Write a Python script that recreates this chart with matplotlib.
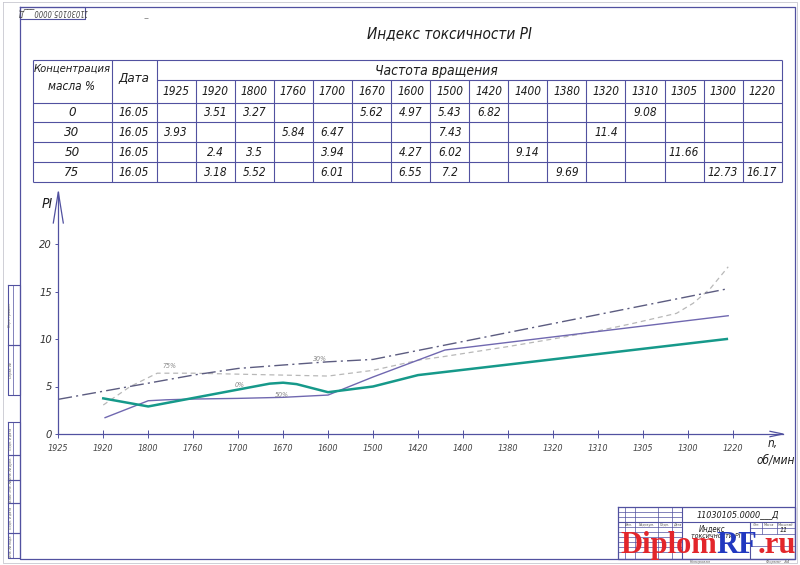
import matplotlib
matplotlib.use("Agg")
import matplotlib.pyplot as plt
from matplotlib import font_manager
from matplotlib.offsetbox import TextArea, HPacker, AnnotationBbox

# ---- data --------------------------------------------------------------
speeds = ["1925", "1920", "1800", "1760", "1700", "1670", "1600", "1500",
          "1420", "1400", "1380", "1320", "1310", "1305", "1300", "1220"]
concentrations = ["0", "30", "50", "75"]
test_date = "16.05"

pi_0 = [None, 3.51, 3.27, None, None, 5.62, 4.97, 5.43, 6.82, None, None, None, 9.08, None, None, None]
pi_30 = [3.93, None, None, 5.84, 6.47, None, None, 7.43, None, None, None, 11.4, None, None, None, None]
pi_50 = [None, 2.4, 3.5, None, 3.94, None, 4.27, 6.02, None, 9.14, None, None, None, 11.66, None, None]
pi_75 = [None, 3.18, 5.52, None, 6.01, None, 6.55, 7.2, None, None, 9.69, None, None, None, 12.73, 16.17]
table_rows = [pi_0, pi_30, pi_50, pi_75]

# curves as drawn on the sheet (x = position of the speed on the axis)
curve_0_x = [1, 2, 4.7, 5, 5.3, 6, 7, 8, 14.87]
curve_0_y = [3.75, 2.9, 5.3, 5.4, 5.25, 4.4, 5.0, 6.2, 10.0]
curve_30_x = [0, 3, 4, 5, 6, 7, 14.9]
curve_30_y = [3.65, 6.2, 6.9, 7.26, 7.6, 7.85, 15.3]
curve_50_x = [1.04, 2, 2.4, 3, 4, 5, 6, 7, 8.6, 14.9]
curve_50_y = [1.72, 3.5, 3.6, 3.68, 3.75, 3.86, 4.1, 6.0, 8.84, 12.45]
curve_75_x = [1, 1.6, 2.2, 3, 4, 5, 6, 7, 8.04, 8.56, 10, 11, 12, 12.79, 13.75, 14.12, 14.5, 14.9]
curve_75_y = [3.05, 5.0, 6.4, 6.4, 6.3, 6.2, 6.1, 6.7, 7.8, 8.14, 9.2, 10.0, 10.85, 11.65, 12.7, 13.76, 15.3, 17.6]

y_ticks = [0, 5, 10, 15, 20]

# ---- style -------------------------------------------------------------
names = {f.name for f in font_manager.fontManager.ttflist}
if "Liberation Sans Narrow" in names:
    FONT = dict(family="Liberation Sans Narrow", style="italic")
else:
    FONT = dict(family="DejaVu Sans", style="italic", stretch="condensed")

LINE = "#5151a0"
INK = "#1c1c1c"
W, H = 800, 565

fig = plt.figure(figsize=(W / 100, H / 100), dpi=100)
bg = fig.add_axes([0, 0, 1, 1])
bg.set_xlim(0, W)
bg.set_ylim(H, 0)
bg.axis("off")


def seg(x0, y0, x1, y1, color=LINE, lw=0.8):
    bg.plot([x0, x1], [y0, y1], color=color, lw=lw, solid_capstyle="butt")


def rect(x0, y0, x1, y1, color=LINE, lw=0.8):
    bg.plot([x0, x1, x1, x0, x0], [y0, y0, y1, y1, y0], color=color, lw=lw)


def txt(x, y, s, size, **kw):
    kw.setdefault("color", INK)
    bg.text(x, y, s, fontsize=size, ha=kw.pop("ha", "center"), va=kw.pop("va", "center"), **FONT, **kw)


# ---- sheet frame -------------------------------------------------------
rect(3, 1.5, 797, 563, color="#c8c8d0", lw=0.6)
rect(20, 6.5, 795, 559, lw=0.9)
rect(20, 6.5, 85, 18.5)
txt(52.5, 12.5, "11030105.0000___Д", 5.5, rotation=180, color="#444")
seg(144, 18, 148, 18, color="#888", lw=0.6)

# left strip
side_cells = [(285, 345, "Перв. примен."), (345, 395, "Справ. №"),
              (422, 455, "Подп. и дата"), (455, 480, "Инв. № дубл."),
              (480, 503, "Взам. инв. №"), (503, 533, "Подп. и дата"),
              (533, 558, "Инв. № подл.")]
for top, bottom, label in side_cells:
    rect(8, top, 20, bottom)
    seg(13, top, 13, bottom, lw=0.5)
    txt(10.5, (top + bottom) / 2, label, 2.6, rotation=90, color="#666")

# title block
rect(618, 507, 795, 559, lw=0.9)
seg(618, 522, 795, 522)
seg(682, 507, 682, 559)
for x in [625, 635, 658, 672]:
    seg(x, 507, x, 559, lw=0.5)
for y in [512, 517, 527, 532, 537, 542, 547, 552]:
    seg(618, y, 682, y, lw=0.5)
seg(750, 522, 750, 559)
for x in [762, 777]:
    seg(x, 522, x, 534, lw=0.5)
for y in [528, 534, 546]:
    seg(750, y, 795, y, lw=0.5)
for x, label in [(629, "Изм."), (646, "№ докум."), (665, "Подп."), (677, "Дата")]:
    txt(x, 524.5, label, 2.6, color="#555")
for x, label in [(756, "Лит."), (769, "Масса"), (786, "Масштаб")]:
    txt(x, 525, label, 2.6, color="#555")
txt(738, 514.5, "11030105.0000___Д", 6.5)
txt(712, 529, "Индекс", 5.5)
txt(716, 536, "токсичности PI", 5)
txt(784, 530, "11", 5)
txt(700, 562, "Копировал", 3, color="#666")
txt(778, 562, "Формат   А4", 3, color="#666")

# ---- title and table ---------------------------------------------------
txt(449, 34, "Индекс токсичности PI", 11)

t_left, t_c1, t_c2, t_right = 32.7, 111.7, 156.7, 781.7
t_top, t_split = 60, 80
row_edges = [103, 122, 142, 162, 182]
col_w = (t_right - t_c2) / len(speeds)

seg(t_left, t_top, t_right, t_top)
seg(t_c2, t_split, t_right, t_split)
for y in row_edges:
    seg(t_left, y, t_right, y)
for x in [t_left, t_c1, t_c2, t_right]:
    seg(x, t_top, x, row_edges[-1])
for i in range(1, len(speeds)):
    x = t_c2 + i * col_w
    seg(x, t_split, x, row_edges[-1])

txt(72, 69, "Концентрация", 8)
txt(72, 86.5, "масла %", 8.5)
txt(134, 78, "Дата", 9.5)
txt(436, 71, "Частота вращения", 10)
for i, s in enumerate(speeds):
    txt(t_c2 + (i + 0.5) * col_w, 91.5, s, 8.5)

for r, (conc, values) in enumerate(zip(concentrations, table_rows)):
    yc = (row_edges[r] + row_edges[r + 1]) / 2
    txt(72, yc, conc, 9.5)
    txt(134, yc, test_date, 8.5)
    for i, v in enumerate(values):
        if v is not None:
            txt(t_c2 + (i + 0.5) * col_w, yc, f"{v:g}", 8.5)

# ---- chart -------------------------------------------------------------
x0_px, x1_px, axis_px, top_px = 58.3, 783, 434, 192
px_per_idx, px_per_unit = 44.96, 9.5
ax = fig.add_axes([x0_px / W, 1 - axis_px / H, (x1_px - x0_px) / W, (axis_px - top_px) / H])
ax.set_facecolor("none")
xmax = (x1_px - x0_px) / px_per_idx
ymax = (axis_px - top_px) / px_per_unit
ax.set_xlim(0, xmax)
ax.set_ylim(0, ymax)
for side in ["top", "right"]:
    ax.spines[side].set_visible(False)
for side in ["left", "bottom"]:
    ax.spines[side].set_color(LINE)
    ax.spines[side].set_linewidth(0.9)

ax.set_xticks(range(len(speeds)))
ax.set_xticklabels(speeds, **FONT)
ax.set_yticks(y_ticks)
ax.set_yticklabels([str(t) for t in y_ticks], **FONT)
ax.tick_params(axis="x", direction="inout", length=6, width=0.7, color=LINE,
               labelsize=6.5, labelcolor="#444", pad=4)
ax.tick_params(axis="y", direction="out", length=2.5, width=0.7, color=LINE,
               labelsize=8, labelcolor="#333", pad=2)

# arrow heads
ax.plot([-5 / px_per_idx, 0, 5 / px_per_idx], [ymax - 31 / px_per_unit, ymax, ymax - 31 / px_per_unit],
        color=LINE, lw=0.9, clip_on=False)
ax.plot([xmax - 13 / px_per_idx, xmax, xmax - 13 / px_per_idx], [2.7 / px_per_unit, 0, -2.7 / px_per_unit],
        color=LINE, lw=0.9, clip_on=False)

ax.plot(curve_75_x, curve_75_y, color="#b8b8b8", lw=0.9, dashes=(4, 3), clip_on=False)
ax.plot(curve_30_x, curve_30_y, color="#5c5c80", lw=1.0, dashes=(10, 3, 1.5, 3), clip_on=False)
ax.plot(curve_50_x, curve_50_y, color="#7068b0", lw=1.0, clip_on=False)
ax.plot(curve_0_x, curve_0_y, color="#16998a", lw=1.8, clip_on=False)

for x, y, label in [(2.48, 7.2, "75%"), (4.04, 5.2, "0%"), (5.82, 7.9, "30%"), (4.98, 4.1, "50%")]:
    ax.text(x, y, label, fontsize=5, color="#888", ha="center", va="center", **FONT)

txt(47, 204, "PI", 10)
txt(773, 444, "n,", 8.5)
txt(776, 460, "об/мин", 8.5)

# ---- watermark ---------------------------------------------------------
wm = dict(family=["Liberation Serif", "DejaVu Serif"], weight="bold", size=22)
parts = [TextArea("Diplom", textprops=dict(color="#e3262b", **wm)),
         TextArea("RF", textprops=dict(color="#2138c0", **wm)),
         TextArea(".ru", textprops=dict(color="#e3262b", **wm))]
box = HPacker(children=parts, align="baseline", pad=0, sep=0)
bg.add_artist(AnnotationBbox(box, (620, 560), xycoords="data", box_alignment=(0, 0),
                             frameon=False, pad=0))

fig.savefig("out.png", dpi=100)
